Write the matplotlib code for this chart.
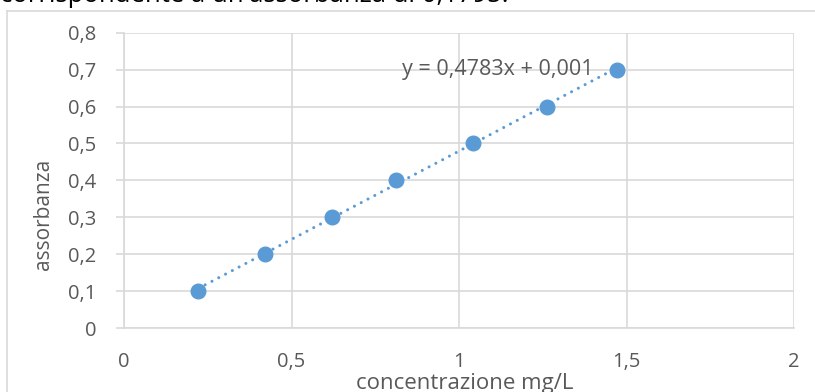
import matplotlib
matplotlib.use("Agg")
import matplotlib.pyplot as plt
import numpy as np

conc = [0.222, 0.421, 0.621, 0.812, 1.041, 1.262, 1.471]
absorb = [0.1, 0.2, 0.3, 0.4, 0.5, 0.6, 0.7]
xticks = [0, 0.5, 1, 1.5, 2]
yticks = [0, 0.1, 0.2, 0.3, 0.4, 0.5, 0.6, 0.7, 0.8]
slope, intercept = 0.4783, 0.001
eq_text = "y = 0,4783x + 0,001"
top_text = "corrispondente a un'assorbanza di 0,1795."

FONT = "Open Sans"
blue = "#5B9BD5"
grid = "#D9D9D9"
txt = "#595959"

W, H = 815, 392
fig = plt.figure(figsize=(W / 100, H / 100), dpi=100)

# outer chart frame
fig.add_artist(plt.Line2D([7 / W, 7 / W], [0, 1 - 11 / H], color=grid, lw=1.2))
fig.add_artist(plt.Line2D([7 / W, 1], [1 - 11 / H, 1 - 11 / H], color=grid, lw=1.2))

fig.text(0.0, 1 - 1.5 / H, top_text, fontsize=18.5, family=FONT, color="black",
         ha="left", va="baseline")

ax = fig.add_axes([124 / W, 1 - 328 / H, (794 - 124) / W, (328 - 32.7) / H])
ax.set_xlim(0, 2)
ax.set_ylim(0, 0.8)
ax.set_xticks(xticks)
ax.set_yticks(yticks)
fmt = lambda v: ("%g" % v).replace(".", ",")
ax.set_xticklabels([fmt(v) for v in xticks], family=FONT, fontsize=14.5, color=txt)
ax.set_yticklabels([fmt(v) for v in yticks], family=FONT, fontsize=14.5, color=txt)
ax.grid(True, color=grid, lw=1.2)
ax.set_axisbelow(True)
for s in ["top", "right"]:
    ax.spines[s].set_visible(False)
for s in ["left", "bottom"]:
    ax.spines[s].set_color(grid)
    ax.spines[s].set_linewidth(1.2)
ax.tick_params(axis="y", length=6, color=grid, width=1.2, pad=14)
ax.tick_params(axis="x", length=0, pad=17)

xs = np.array([conc[0], conc[-1]])
ax.plot(xs, slope * xs + intercept, color=blue, lw=2.2,
        linestyle=(0, (0.01, 2.5)), dash_capstyle="round", zorder=3)
ax.plot(conc, absorb, "o", color=blue, markersize=10.5, zorder=4, clip_on=False)

ax.text(1.116, 0.7, eq_text, family=FONT, fontsize=15.5, color=txt,
        ha="center", va="center")

fig.text(465 / W, 1 - 383 / H, "concentrazione mg/L", family=FONT, fontsize=16,
         color=txt, ha="center", va="center")
fig.text(43 / W, 1 - 214 / H, "assorbanza", family=FONT, fontsize=15,
         color=txt, ha="center", va="center", rotation=90)

fig.savefig("out.png", dpi=100)
